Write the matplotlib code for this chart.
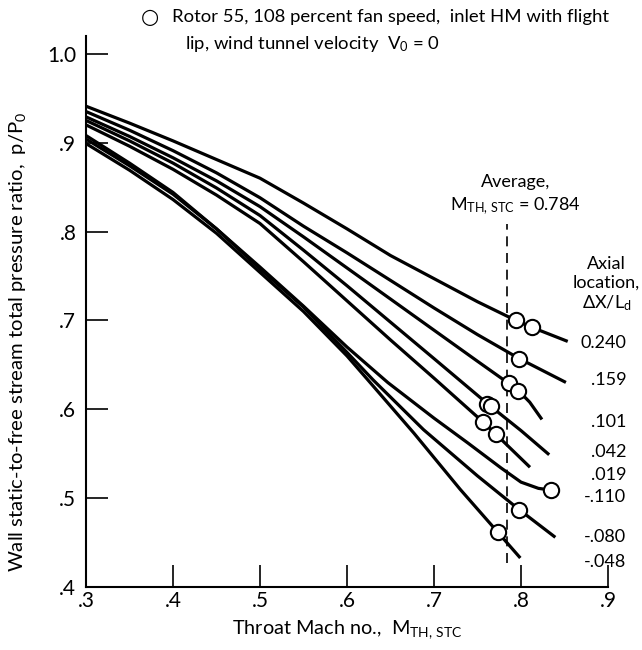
import matplotlib
matplotlib.use("Agg")
import matplotlib.pyplot as plt

FONT = ["Lato", "DejaVu Sans"]
plt.rcParams["font.family"] = FONT
plt.rcParams["mathtext.fontset"] = "custom"
plt.rcParams["mathtext.rm"] = "Lato"
plt.rcParams["mathtext.it"] = "Lato"
plt.rcParams["mathtext.bf"] = "Lato"

# === DATA ===
axial_labels = ["0.240", ".159", ".101", ".042", ".019", "-.110", "-.080", "-.048"]

x_a = [0.30, 0.35, 0.40, 0.45, 0.50, 0.55, 0.60, 0.65, 0.70, 0.75, 0.794, 0.813, 0.852]
y_a = [0.941, 0.922, 0.902, 0.881, 0.860, 0.832, 0.803, 0.773, 0.747, 0.721, 0.700, 0.692, 0.677]

x_b = [0.30, 0.35, 0.40, 0.45, 0.50, 0.55, 0.60, 0.65, 0.70, 0.75, 0.798, 0.850]
y_b = [0.935, 0.914, 0.891, 0.866, 0.838, 0.806, 0.776, 0.745, 0.714, 0.684, 0.657, 0.631]

x_c = [0.30, 0.35, 0.40, 0.45, 0.50, 0.55, 0.60, 0.65, 0.70, 0.75, 0.786, 0.797, 0.810, 0.823]
y_c = [0.929, 0.907, 0.883, 0.857, 0.828, 0.794, 0.759, 0.724, 0.689, 0.654, 0.629, 0.621, 0.608, 0.590]

x_d = [0.30, 0.35, 0.40, 0.45, 0.50, 0.55, 0.60, 0.65, 0.70, 0.763, 0.80, 0.831]
y_d = [0.925, 0.902, 0.877, 0.849, 0.818, 0.779, 0.739, 0.698, 0.657, 0.605, 0.576, 0.550]

x_e = [0.30, 0.35, 0.40, 0.45, 0.50, 0.55, 0.60, 0.65, 0.70, 0.756, 0.771, 0.809]
y_e = [0.920, 0.896, 0.870, 0.841, 0.809, 0.766, 0.722, 0.678, 0.635, 0.586, 0.572, 0.536]

x_f = [0.30, 0.35, 0.40, 0.45, 0.50, 0.55, 0.60, 0.647, 0.70, 0.739, 0.777, 0.80, 0.82, 0.835]
y_f = [0.908, 0.877, 0.844, 0.803, 0.760, 0.716, 0.670, 0.630, 0.590, 0.562, 0.534, 0.518, 0.511, 0.509]

x_g = [0.30, 0.35, 0.40, 0.45, 0.50, 0.55, 0.60, 0.63, 0.688, 0.75, 0.798, 0.838]
y_g = [0.904, 0.874, 0.842, 0.803, 0.758, 0.715, 0.664, 0.633, 0.577, 0.525, 0.487, 0.457]

x_h = [0.30, 0.35, 0.40, 0.45, 0.50, 0.55, 0.60, 0.624, 0.677, 0.73, 0.773, 0.798]
y_h = [0.899, 0.869, 0.836, 0.798, 0.754, 0.710, 0.660, 0.633, 0.573, 0.510, 0.462, 0.434]

curves_x = [x_a, x_b, x_c, x_d, x_e, x_f, x_g, x_h]
curves_y = [y_a, y_b, y_c, y_d, y_e, y_f, y_g, y_h]

# measured points (open circles)
pts_x = [0.794, 0.813, 0.798, 0.786, 0.797, 0.761, 0.765, 0.756, 0.771, 0.835, 0.798, 0.773]
pts_y = [0.700, 0.692, 0.657, 0.629, 0.621, 0.606, 0.604, 0.586, 0.572, 0.509, 0.487, 0.462]

avg_mach = 0.784

# label y positions on the right, same order as axial_labels
label_y = [0.675, 0.633, 0.586, 0.552, 0.526, 0.501, 0.456, 0.428]

x_ticks = [0.3, 0.4, 0.5, 0.6, 0.7, 0.8, 0.9]
x_ticklabels = [".3", ".4", ".5", ".6", ".7", ".8", ".9"]
y_ticks = [0.4, 0.5, 0.6, 0.7, 0.8, 0.9, 1.0]
y_ticklabels = [".4", ".5", ".6", ".7", ".8", ".9", "1.0"]

# === FIGURE ===
fig = plt.figure(figsize=(6.42, 6.5), dpi=100)
ax = fig.add_axes([86 / 642, 1 - 587 / 650, (608 - 86) / 642, (587 - 36) / 650])

for xs, ys in zip(curves_x, curves_y):
    ax.plot(xs, ys, color="black", lw=2.3, solid_joinstyle="round", zorder=2)

ax.plot(pts_x, pts_y, "o", ms=11, mfc="white", mec="black", mew=1.5, zorder=3)

# average throat Mach number line
ax.plot([avg_mach, avg_mach], [0.427, 0.808], color="black", lw=1.2,
        dashes=(6, 4), zorder=1)
ax.text(0.794, 0.856, "Average,", ha="center", va="center", fontsize=13)
ax.text(0.794, 0.828, r"$M_{\mathrm{TH,\,STC}}$ = 0.784", ha="center",
        va="center", fontsize=13)

# axial location labels
ax.text(0.898, 0.740, "Axial\nlocation,\n" + r"$\Delta X/L_d$", ha="center",
        va="center", fontsize=13, linespacing=1.2, clip_on=False)
for lab, yy in zip(axial_labels, label_y):
    ax.text(0.921, yy, lab, ha="right", va="center", fontsize=13, clip_on=False)

# note at the top
fig.text(150 / 642, 1 - 17 / 650, "\u25cb", ha="center", va="center",
         fontsize=15, family=["DejaVu Sans"])
fig.text(172 / 642, 1 - 17 / 650,
         "Rotor 55, 108 percent fan speed,  inlet HM with flight",
         ha="left", va="center", fontsize=13.3)
fig.text(185 / 642, 1 - 44 / 650,
         r"lip, wind tunnel velocity  $V_0$ = 0", ha="left", va="center",
         fontsize=13.3)

ax.set_xlim(0.3, 0.9)
ax.set_ylim(0.4, 1.02)
ax.set_xticks(x_ticks)
ax.set_xticklabels(x_ticklabels, fontsize=15)
ax.set_yticks(y_ticks)
ax.set_yticklabels(y_ticklabels, fontsize=15)
ax.tick_params(axis="both", direction="in", length=16, width=1.2)
ax.tick_params(axis="y", pad=7)
ax.tick_params(axis="x", pad=3)
ax.spines["top"].set_visible(False)
ax.spines["right"].set_visible(False)
ax.spines["left"].set_linewidth(1.5)
ax.spines["bottom"].set_linewidth(1.5)

ax.set_xlabel(r"Throat Mach no.,  $M_{\mathrm{TH,\,STC}}$", fontsize=14.3, labelpad=5)
ax.set_ylabel(r"Wall static-to-free stream total pressure ratio,  $p/P_0$",
              fontsize=14.6)
ax.yaxis.set_label_coords(-0.112, 0.445)

fig.savefig("out.png", dpi=100)
